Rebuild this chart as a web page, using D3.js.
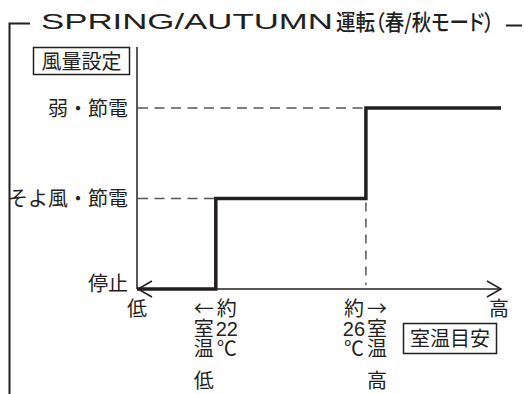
<!DOCTYPE html>
<html>
<head>
<meta charset="utf-8">
<script src="https://cdn.jsdelivr.net/npm/d3@7"></script>
<style>
  body { margin: 0; background: #fff; }
  text { fill: #231f20; font-family: "Liberation Sans", "Noto Sans CJK JP", sans-serif; }
  .jp { font-family: "Noto Sans CJK JP", sans-serif; }
  .palt { font-feature-settings: "palt"; }
</style>
</head>
<body>
<div class="chart"></div>
<script>
// fan levels (bottom to top) and the step values
const levels = ["停止", "そよ風・節電", "弱・節電"];
const stepTemps = [19.9, 22, 26, 29.6];
const stepLevels = ["停止", "そよ風・節電", "弱・節電", "弱・節電"];
const tempRange = [19.9, 29.6];
const titleLatin = "SPRING/AUTUMN";
const titleJp = "運転（春/秋モード）";
const yTitle = "風量設定";
const xTitle = "室温目安";
const endLabels = ["低", "高"];
const tempNotes = [
  { t: 22, left: ["←", "室", "温"], right: ["約", "22", "℃"], under: "低", side: -1 },
  { t: 26, left: ["約", "26", "℃"], right: ["→", "室", "温"], under: "高", side: 1 }
];

const width = 524, height = 394;
const svg = d3.select(".chart").append("svg")
  .attr("width", width)
  .attr("height", height);

// scales
const x = d3.scaleLinear().domain(tempRange).range([137, 501]);
const y = d3.scalePoint().domain(levels).range([289, 108]);

const ink = "#231f20";

// outer frame + title
svg.append("path")
  .attr("d", "M9.5,394V23.5H30")
  .attr("fill", "none").attr("stroke", ink).attr("stroke-width", 2);
svg.append("line")
  .attr("x1", 506).attr("x2", 522).attr("y1", 25.5).attr("y2", 25.5)
  .attr("stroke", ink).attr("stroke-width", 2);
const title = svg.append("text").attr("x", 41).attr("y", 28.5);
title.append("tspan")
  .attr("font-size", 21.5)
  .attr("textLength", 292).attr("lengthAdjust", "spacingAndGlyphs")
  .text(titleLatin);
title.append("tspan").attr("class", "jp palt")
  .attr("x", 336)
  .attr("y", 29.5)
  .attr("font-size", 22)
  .attr("font-weight", 500)
  .attr("textLength", 158).attr("lengthAdjust", "spacingAndGlyphs")
  .text(titleJp);

// y axis
svg.append("line")
  .attr("x1", 137).attr("x2", 137).attr("y1", 47).attr("y2", y("停止"))
  .attr("stroke", ink).attr("stroke-width", 1.5);
const yAxis = svg.append("g")
  .attr("transform", "translate(137,0)")
  .call(d3.axisLeft(y).tickSize(0).tickPadding(9));
yAxis.select(".domain").remove();
yAxis.selectAll("text")
  .attr("class", "jp")
  .attr("font-size", 20)
  .attr("fill", ink)
  .attr("dy", d => d === "停止" ? "0.05em" : "0.35em");

// y title box
const yBox = svg.append("g");
yBox.append("rect")
  .attr("x", 33.5).attr("y", 47.5).attr("width", 96).attr("height", 27)
  .attr("fill", "none").attr("stroke", ink).attr("stroke-width", 1.5);
yBox.append("text").attr("class", "jp")
  .attr("x", 81.5).attr("y", 68.5)
  .attr("text-anchor", "middle").attr("font-size", 20)
  .text(yTitle);

// x axis line with arrows at both ends
const [x0, x1] = x.range();
const y0 = y("停止");
svg.append("line")
  .attr("x1", x0 + 1).attr("x2", x1).attr("y1", y0).attr("y2", y0)
  .attr("stroke", ink).attr("stroke-width", 1.5);
svg.append("path")
  .attr("d", `M${x0 + 15},${y0 - 8}L${x0 + 1},${y0}L${x0 + 15},${y0 + 8}`)
  .attr("fill", "none").attr("stroke", ink).attr("stroke-width", 1.5);
svg.append("path")
  .attr("d", `M${x1 - 14},${y0 - 8}L${x1},${y0}L${x1 - 14},${y0 + 8}`)
  .attr("fill", "none").attr("stroke", ink).attr("stroke-width", 1.5);

// dashed guides
const guide = svg.append("g")
  .attr("stroke", "#555").attr("stroke-width", 1.5).attr("fill", "none");
stepTemps.slice(1, 3).forEach((t, i) => {
  guide.append("line")
    .attr("x1", x0 + 1).attr("x2", x(t)).attr("y1", y(stepLevels[i + 1])).attr("y2", y(stepLevels[i + 1]))
    .attr("stroke-dasharray", "10,6.5");
});
guide.append("line")
  .attr("x1", x(26)).attr("x2", x(26)).attr("y1", y(stepLevels[1]) + 4).attr("y2", y0 - 4)
  .attr("stroke-dasharray", "9,7");

// the step line
const line = d3.line()
  .x(d => x(d[0]))
  .y(d => y(d[1]))
  .curve(d3.curveStepAfter);
svg.append("path")
  .datum(d3.zip(stepTemps, stepLevels))
  .attr("d", line)
  .attr("fill", "none")
  .attr("stroke", "#231f20")
  .attr("stroke-width", 3.5)
  .attr("stroke-linejoin", "miter");

// ends of x axis
svg.selectAll(".endLabel")
  .data(endLabels)
  .join("text")
  .attr("class", "jp")
  .attr("x", (d, i) => i === 0 ? x0 : x1 - 2)
  .attr("y", 315.5)
  .attr("text-anchor", "middle")
  .attr("font-size", 20)
  .text(d => d);

// temperature notes, each written as a narrow column of short lines
const rowY = [315.5, 336, 356];
tempNotes.forEach(n => {
  const cx = x(n.t);
  const cols = [[n.left, cx - 12], [n.right, cx + 11]];
  cols.forEach(([col, px], ci) => {
    const rows = (ci === 0) === (n.side < 0) ? col.concat([n.under]) : col;
    const ys = rowY.concat([387.5]);
    svg.append("text")
      .attr("text-anchor", "middle")
      .attr("font-size", 20)
      .selectAll("tspan")
      .data(rows)
      .join("tspan")
      .attr("class", d => /\d/.test(d) ? null : "jp")
      .attr("x", px)
      .attr("y", (d, i) => ys[i])
      .text(d => d);
  });
});

// x title box
const xBox = svg.append("g");
xBox.append("rect")
  .attr("x", 403.5).attr("y", 323.5).attr("width", 93).attr("height", 30)
  .attr("fill", "none").attr("stroke", ink).attr("stroke-width", 1.5);
xBox.append("text").attr("class", "jp")
  .attr("x", 450).attr("y", 346)
  .attr("text-anchor", "middle").attr("font-size", 20)
  .text(xTitle);
</script>
</body>
</html>
